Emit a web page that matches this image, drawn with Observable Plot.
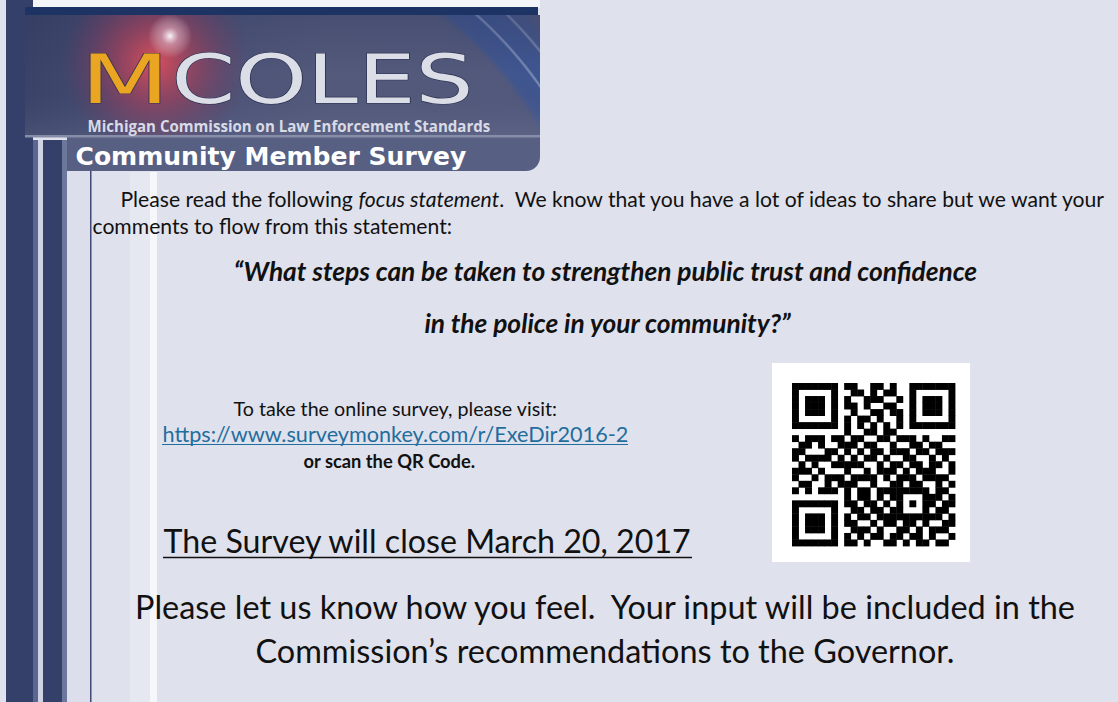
<!DOCTYPE html>
<html>
<head>
<meta charset="utf-8">
<script src="https://cdn.jsdelivr.net/npm/d3@7"></script>
<script src="https://cdn.jsdelivr.net/npm/@observablehq/plot@0.6"></script>
<style>
  html, body { margin: 0; padding: 0; overflow: hidden; background: #dfe1ec; }
  #chart svg { display: block; }
</style>
</head>
<body>
<div id="chart"></div>
<script>
// ---------- content (read from the flyer) ----------
const logoParts = ["M", "COLES"];
const orgName = "Michigan Commission on Law Enforcement Standards";
const surveyTitle = "Community Member Survey";
const introParts = ["Please read the following ", "focus statement", ".  We know that you have a lot of ideas to share but we want your"];
const introLine2 = "comments to flow from this statement:";
const focusLines = ["\u201CWhat steps can be taken to strengthen public trust and confidence", "in the police in your community?\u201D"];
const visitLines = ["To take the online survey, please visit:", "https://www.surveymonkey.com/r/ExeDir2016-2", "or scan the QR Code."];
const closeLine = "The Survey will close March 20, 2017";
const closingLines = ["Please let us know how you feel.  Your input will be included in the", "Commission\u2019s recommendations to the Governor."];

// QR code modules (1 = dark), 25 x 25
const qrRows = [
  ["1111111","0","110011010","0","1111111"],
  ["1000001","0","011010110","0","1000001"],
  ["1011101","0","100111001","0","1011101"],
  ["1011101","0","110100110","0","1011101"],
  ["1011101","0","010011011","0","1011101"],
  ["1000001","0","101101001","0","1000001"],
  ["1111111","0","101010101","0","1111111"],
  ["0000000","0","100110110","0","0000000"],
  ["1011101","1","011001101","1","1010011"],
  ["0110100","1","110110010","0","1101100"],
  ["1100011","0","101011011","1","0110111"],
  ["1011110","1","010110100","1","1001010"],
  ["0101001","1","111001011","0","1101101"],
  ["1110100","0","100101110","1","0111001"],
  ["1001011","1","011110101","1","1011110"],
  ["0110010","1","110010011","0","1100101"],
  ["10101110","10110111","11111","0110"],
  ["00000000","1","0110101","10001","1101"],
  ["1111111","0","1","1011010","10101","1011"],
  ["1000001","0","0","1101101","10001","0110"],
  ["1011101","0","1","0110111","11111","1101"],
  ["1011101","0","1","1001011","01101","0011"],
  ["1011101","0","0","1110100","11010","1110"],
  ["1000001","0","1","0101101","10110","1001"],
  ["1111111","0","1","1010011","01011","0110"]
].map(g => g.join(""));

// ---------- layout (page pixels) ----------
const W = 1118, H = 702;
const stripes = [
  {x1: 0,   x2: W,   y1: 0,   y2: H,   fill: "#dfe1ec"},
  {x1: 25,  x2: 540, y1: 0,   y2: 8,   fill: "#f4f5f9"},
  {x1: 6,   x2: 33,  y1: 0,   y2: H,   fill: "#34406a"},
  {x1: 33,  x2: 38,  y1: 140, y2: H,   fill: "#5b6790"},
  {x1: 38,  x2: 43,  y1: 140, y2: H,   fill: "#cfd3e4"},
  {x1: 43,  x2: 62,  y1: 140, y2: H,   fill: "#34406a"},
  {x1: 62,  x2: 67,  y1: 140, y2: H,   fill: "#6d779c"},
  {x1: 67,  x2: 90,  y1: 140, y2: H,   fill: "#dcdfeb"},
  {x1: 130, x2: 150, y1: 172, y2: H,   fill: "#e6e8f1"},
  {x1: 150, x2: 157, y1: 172, y2: H,   fill: "#f6f7fb"},
  {x1: 90,  x2: 91.5,y1: 170, y2: H,   fill: "#3f4877"},
  {x1: 25,  x2: 538, y1: 7,   y2: 16,  fill: "#1d3363"}
];
const L = {
  banner: {x1: 25, x2: 540, y1: 15, y2: 136},
  bannerLine: {x1: 25, x2: 540, y1: 135, y2: 137.5},
  band: {x1: 67, x2: 540, y1: 120, y2: 171, r: 14},
  M: {x: 80, y: 102, w: 89},
  COLES: {x: 171, y: 102, w: 302},
  logoSize: 67,
  org: {x1: 87, x2: 490, y: 131},
  survey: {x1: 75, x2: 466, y: 164},
  intro: {x1: 120, x2: 1107, y: 206},
  intro2: {x: 92, y: 233},
  focus: {x1: 233, x2: 977, cx: 605, y: [280, 332]},
  visit: {x1: 233, x2: 557, y: 415},
  url: {x1: 162, x2: 628, y: 441},
  scan: {x1: 303, x2: 475, y: 467},
  close: {x1: 163, x2: 692, y: 552},
  closing: {x1: 132, x2: 1077, cx: 604.5, y: [618, 662]},
  qrBox: {x1: 772, x2: 970, y1: 363, y2: 562},
  qr: {x: 792, y: 383, size: 163}
};

// ---------- text measurement helpers ----------
const ctx = document.createElement("canvas").getContext("2d");
function w100(text, family, weight = 400, style = "normal") {
  ctx.font = `${style} ${weight} 100px ${family}`;
  return ctx.measureText(text).width;
}
const BODY = "Lato";
const BODYF = "Lato, 'Gill Sans', sans-serif";

const iw = [w100(introParts[0], BODY), w100(introParts[1], BODY, 400, "italic"), w100(introParts[2], BODY)];
const introSize = 100 * (L.intro.x2 - L.intro.x1) / d3.sum(iw);
const introX = [L.intro.x1, L.intro.x1 + iw[0] * introSize / 100, L.intro.x1 + (iw[0] + iw[1]) * introSize / 100];

const focusSize = 100 * (L.focus.x2 - L.focus.x1) / w100(focusLines[0], BODY, 700, "italic");
const visitSize = 100 * (L.visit.x2 - L.visit.x1) / w100(visitLines[0], BODY);
const urlSize = 100 * (L.url.x2 - L.url.x1) / w100(visitLines[1], BODY);
const scanSize = 100 * (L.scan.x2 - L.scan.x1) / w100(visitLines[2], BODY, 700);
const closeSize = 100 * (L.close.x2 - L.close.x1) / w100(closeLine, BODY);
const closingSize = 100 * (L.closing.x2 - L.closing.x1) / w100(closingLines[0], BODY);
const orgSize = 100 * (L.org.x2 - L.org.x1) / w100(orgName, "'Open Sans'", 700);
const surveySize = 100 * (L.survey.x2 - L.survey.x1) / w100(surveyTitle, "'DejaVu Sans'", 700);

// QR cells
const qrCells = [];
qrRows.forEach((row, r) => [...row].forEach((v, c) => { if (v === "1") qrCells.push({r, c}); }));
const n = qrRows.length;
const qx = d3.scaleLinear().domain([0, n]).range([L.qr.x, L.qr.x + L.qr.size]);
const qy = d3.scaleLinear().domain([0, n]).range([L.qr.y, L.qr.y + L.qr.size]);

function txt(str, x, y, o = {}) {
  return Plot.text([str], {
    text: d => d, x, y,
    lineAnchor: "bottom",
    textAnchor: o.anchor || "start",
    fontFamily: o.family || BODYF,
    fontSize: o.size,
    fontWeight: o.weight || "normal",
    fontStyle: o.style || "normal",
    fill: o.fill || "#111111",
    stroke: o.stroke,
    strokeWidth: o.strokeWidth,
    paintOrder: o.stroke ? "stroke" : undefined
  });
}
function box(b, fill, extra = {}) {
  return Plot.rect([b], {x1: "x1", x2: "x2", y1: "y1", y2: "y2", fill, ...extra});
}

const urlW = w100(visitLines[1], BODY) * urlSize / 100;
const closeW = w100(closeLine, BODY) * closeSize / 100;

const plot = Plot.plot({
  width: W, height: H,
  margin: 0,
  x: {domain: [0, W], range: [0, W], axis: null},
  y: {domain: [0, H], range: [0, H], axis: null},
  color: {type: "identity"},
  style: {background: "transparent"},
  marks: [
    Plot.rect(stripes, {x1: "x1", x2: "x2", y1: "y1", y2: "y2", fill: "fill"}),
    // survey band with rounded bottom-right corner
    box(L.band, "#575f83", {rx: L.band.r}),
    box({x1: L.band.x1, x2: L.band.x2 - 30, y1: L.band.y1, y2: L.band.y2}, "#575f83"),
    // banner
    box(L.banner, "#010101"),
    box(L.banner, "#050505"),
    box(L.banner, "#020202"),
    box(L.banner, "#030303"),
    box(L.banner, "#040404"),
    box(L.bannerLine, "#878da8"),
    // logo
    txt(logoParts[0], L.M.x, L.M.y, {family: "'DejaVu Sans', sans-serif", size: L.logoSize, fill: "#eaa522", stroke: "#3a3350", strokeWidth: 1.2}),
    txt(logoParts[1], L.COLES.x, L.COLES.y, {family: "'DejaVu Sans', sans-serif", size: L.logoSize, fill: "#dcdee7", stroke: "#2b3050", strokeWidth: 1.2}),
    txt(orgName, L.org.x1, L.org.y, {family: "'Open Sans', sans-serif", size: orgSize, weight: 700, fill: "#d8dbe6"}),
    txt(surveyTitle, L.survey.x1, L.survey.y, {family: "'DejaVu Sans', sans-serif", size: surveySize, weight: 700, fill: "#ffffff"}),
    // body text
    txt(introParts[0], introX[0], L.intro.y, {size: introSize}),
    txt(introParts[1], introX[1], L.intro.y, {size: introSize, style: "italic"}),
    txt(introParts[2], introX[2], L.intro.y, {size: introSize}),
    txt(introLine2, L.intro2.x, L.intro2.y, {size: introSize}),
    txt(focusLines[0], L.focus.cx, L.focus.y[0], {size: focusSize, weight: 700, style: "italic", anchor: "middle"}),
    txt(focusLines[1], L.focus.cx + 2, L.focus.y[1], {size: focusSize, weight: 700, style: "italic", anchor: "middle"}),
    txt(visitLines[0], L.visit.x1, L.visit.y, {size: visitSize}),
    txt(visitLines[1], L.url.x1, L.url.y, {size: urlSize, fill: "#1f6e9e"}),
    Plot.ruleY([L.url.y + 3], {x1: L.url.x1, x2: L.url.x1 + urlW, stroke: "#1f6e9e", strokeWidth: 1.2}),
    txt(visitLines[2], L.scan.x1, L.scan.y, {size: scanSize, weight: 700}),
    txt(closeLine, L.close.x1, L.close.y, {size: closeSize}),
    Plot.ruleY([L.close.y + 5], {x1: L.close.x1, x2: L.close.x1 + closeW, stroke: "#111111", strokeWidth: 1.6}),
    txt(closingLines[0], L.closing.cx, L.closing.y[0], {size: closingSize, anchor: "middle"}),
    txt(closingLines[1], L.closing.cx, L.closing.y[1], {size: closingSize, anchor: "middle"}),
    // QR code
    box(L.qrBox, "#ffffff"),
    Plot.rect(qrCells, {
      x1: d => qx(d.c), x2: d => qx(d.c + 1) + 0.4,
      y1: d => qy(d.r), y2: d => qy(d.r + 1) + 0.4,
      fill: "#000000"
    })
  ]
});

// gradients for the banner artwork
const svg = d3.select(plot);
svg.insert("defs", ":first-child").html(`
  <linearGradient id="bannerGrad" x1="0" y1="0" x2="1" y2="0">
    <stop offset="0" stop-color="#3a4267"/>
    <stop offset="0.25" stop-color="#485075"/>
    <stop offset="0.6" stop-color="#545a7b"/>
    <stop offset="1" stop-color="#52597c"/>
  </linearGradient>
  <radialGradient id="arcs" gradientUnits="userSpaceOnUse" cx="200" cy="325" r="470">
    <stop offset="0" stop-color="#3a5596" stop-opacity="0"/>
    <stop offset="0.83" stop-color="#3a5596" stop-opacity="0"/>
    <stop offset="0.845" stop-color="#3a5596" stop-opacity="0.7"/>
    <stop offset="0.88" stop-color="#3a5596" stop-opacity="0.8"/>
    <stop offset="0.884" stop-color="#9fb2dc" stop-opacity="0.6"/>
    <stop offset="0.888" stop-color="#3a5596" stop-opacity="0.8"/>
    <stop offset="0.925" stop-color="#3a5596" stop-opacity="0.7"/>
    <stop offset="0.929" stop-color="#9fb2dc" stop-opacity="0.5"/>
    <stop offset="0.933" stop-color="#3a5596" stop-opacity="0.6"/>
    <stop offset="0.955" stop-color="#3a5596" stop-opacity="0.35"/>
    <stop offset="0.97" stop-color="#3a5596" stop-opacity="0"/>
    <stop offset="1" stop-color="#3a5596" stop-opacity="0"/>
  </radialGradient>
  <linearGradient id="bannerV" x1="0" y1="0" x2="0" y2="1">
    <stop offset="0" stop-color="#2c355c" stop-opacity="0.3"/>
    <stop offset="0.5" stop-color="#2c355c" stop-opacity="0"/>
    <stop offset="1" stop-color="#8088a8" stop-opacity="0.2"/>
  </linearGradient>
  <radialGradient id="glowRed" gradientUnits="userSpaceOnUse" cx="155" cy="62" r="95">
    <stop offset="0" stop-color="#e0505c" stop-opacity="0.95"/>
    <stop offset="0.45" stop-color="#b23c55" stop-opacity="0.55"/>
    <stop offset="1" stop-color="#7a3058" stop-opacity="0"/>
  </radialGradient>
  <radialGradient id="flare" gradientUnits="userSpaceOnUse" cx="170" cy="36" r="22">
    <stop offset="0" stop-color="#ffffff" stop-opacity="0.95"/>
    <stop offset="0.4" stop-color="#f0d0e0" stop-opacity="0.45"/>
    <stop offset="1" stop-color="#ffffff" stop-opacity="0"/>
  </radialGradient>
`);
svg.selectAll('[fill="#010101"]').attr("fill", "url(#bannerGrad)");
svg.selectAll('[fill="#050505"]').attr("fill", "url(#arcs)");
svg.selectAll('[fill="#020202"]').attr("fill", "url(#bannerV)");
svg.selectAll('[fill="#030303"]').attr("fill", "url(#glowRed)");
svg.selectAll('[fill="#040404"]').attr("fill", "url(#flare)");
// stretch the logo letters to the wide shape of the original
svg.selectAll("text").each(function () {
  const t = this.textContent;
  if (t === logoParts[0]) d3.select(this).attr("textLength", L.M.w).attr("lengthAdjust", "spacingAndGlyphs");
  if (t === logoParts[1]) d3.select(this).attr("textLength", L.COLES.w).attr("lengthAdjust", "spacingAndGlyphs");
});

document.getElementById("chart").appendChild(plot);
</script>
</body>
</html>
